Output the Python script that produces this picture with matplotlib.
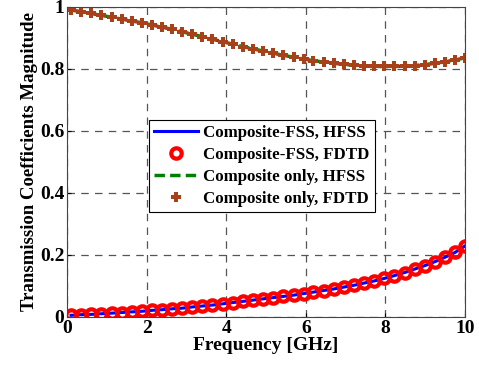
import matplotlib.pyplot as plt

# transmission magnitude vs frequency, composite with/without FSS

freq = [0.10, 0.35, 0.61, 0.86, 1.12, 1.37, 1.62, 1.88, 2.13, 2.38,
        2.64, 2.89, 3.15, 3.40, 3.65, 3.91, 4.16, 4.42, 4.67, 4.92,
        5.18, 5.43, 5.69, 5.94, 6.19, 6.45, 6.70, 6.95, 7.21, 7.46,
        7.72, 7.97, 8.22, 8.48, 8.73, 8.98, 9.24, 9.49, 9.75, 10.0]

fss = [0.005, 0.007, 0.008, 0.010, 0.012, 0.014, 0.016, 0.018, 0.021, 0.023,
       0.026, 0.028, 0.032, 0.035, 0.038, 0.042, 0.046, 0.050, 0.054, 0.058,
       0.062, 0.066, 0.070, 0.075, 0.080, 0.085, 0.090, 0.096, 0.102, 0.109,
       0.116, 0.124, 0.133, 0.143, 0.154, 0.165, 0.178, 0.192, 0.208, 0.229]

comp = [0.990, 0.985, 0.979, 0.973, 0.967, 0.961, 0.955, 0.949, 0.942, 0.935,
        0.928, 0.920, 0.912, 0.904, 0.896, 0.888, 0.880, 0.872, 0.865, 0.858,
        0.851, 0.844, 0.838, 0.832, 0.827, 0.822, 0.818, 0.815, 0.812, 0.810,
        0.808, 0.808, 0.808, 0.809, 0.811, 0.814, 0.818, 0.823, 0.829, 0.836]

plt.rcParams['font.family'] = ['Liberation Serif']
plt.rcParams['font.weight'] = 'bold'

fig = plt.figure(figsize=(4.79, 3.68), dpi=100)
ax = fig.add_axes([0.14, 0.139, 0.831, 0.842])

ax.plot(freq, fss, color='#0000ff', lw=2.2, label='Composite-FSS, HFSS')
ax.plot(freq, fss, 'o', ls='none', ms=7.5, mfc='none', mec='#ff0000', mew=3,
        label='Composite-FSS, FDTD')
ax.plot(freq, comp, color='#008000', ls='--', lw=2.5, dashes=(3, 1.5),
        label='Composite only, HFSS')
ax.plot(freq, comp, 'P', ls='none', ms=6.5, color='#a8401a', mew=0,
        label='Composite only, FDTD')

ax.set_xlim(0, 10)
ax.set_ylim(0, 1)
ax.set_xticks([0, 2, 4, 6, 8, 10])
ax.set_yticks([0, 0.2, 0.4, 0.6, 0.8, 1])
ax.set_yticklabels(['0', '0.2', '0.4', '0.6', '0.8', '1'])
ax.tick_params(direction='in', length=3, labelsize=14, pad=2)
ax.grid(True, ls=(0, (6, 5)), color='#555555', lw=0.9)
for s in ax.spines.values():
    s.set_color('#444444')

ax.set_xlabel('Frequency [GHz]', fontsize=14, fontweight='bold', labelpad=0)
ax.set_ylabel('Transmission Coefficients Magnitude', fontsize=13.5,
              fontweight='bold', labelpad=1)

leg = ax.legend(loc='center', bbox_to_anchor=(0.49, 0.487), fontsize=12.2,
                fancybox=False, framealpha=1, edgecolor='black',
                handlelength=2.6, handletextpad=0.3, borderpad=0.3,
                labelspacing=0.35, borderaxespad=0)
leg.get_frame().set_linewidth(0.8)

fig.savefig('out.png')
